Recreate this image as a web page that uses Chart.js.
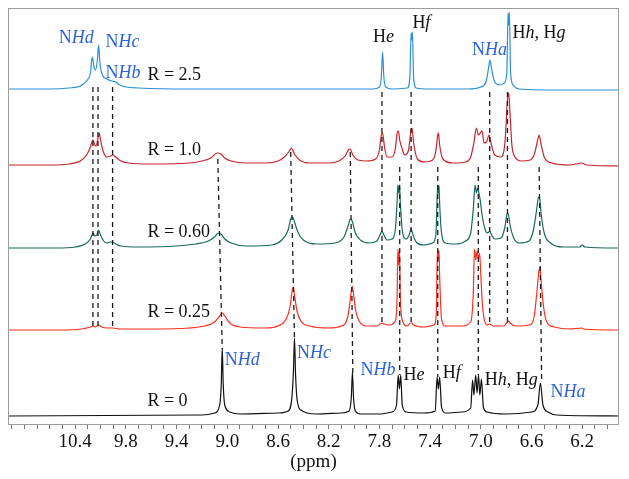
<!DOCTYPE html>
<html>
<head>
<meta charset="utf-8">
<script src="https://cdn.jsdelivr.net/npm/chart.js@4.4.1/dist/chart.umd.min.js"></script>
<style>
  html, body { margin: 0; padding: 0; background: #fff; }
</style>
</head>
<body>
<canvas id="nmr" width="629" height="479"></canvas>
<script>
// Spectra: [ppm, intensity] pairs (intensity includes the stack offset)
const specR25 = [[10.73,336],[10.40,336],[10.25,337],[10.16,339],[10.11,344],[10.08,352],[10.065,368],[10.05,357],[10.04,355],[10.025,365],[10.015,380],[10.005,362],[9.985,350],[9.95,346],[9.91,344],[9.88,343],[9.85,340],[9.80,338],[9.70,337],[9.30,336],[8.50,336],[8.00,336],[7.85,336],[7.80,338],[7.785,348],[7.775,373],[7.765,348],[7.75,338],[7.70,336],[7.58,337],[7.56,347],[7.55,392],[7.545,385],[7.54,393],[7.53,347],[7.51,337],[7.40,336],[7.10,336],[7.00,338],[6.96,343],[6.94,356],[6.928,365],[6.915,356],[6.89,343],[6.85,340],[6.815,342],[6.795,352],[6.785,412],[6.78,400],[6.775,413],[6.765,352],[6.745,340],[6.70,336],[6.40,335],[5.91,335]];

const specR10 = [[10.73,260],[10.40,260],[10.25,261],[10.16,264],[10.11,270],[10.08,278],[10.06,285],[10.045,280],[10.035,279],[10.02,287],[10.01,292],[10.0,285],[9.98,274],[9.95,268],[9.92,269],[9.905,270],[9.88,268],[9.84,264],[9.78,262],[9.60,261],[9.30,262],[9.20,264],[9.13,267],[9.08,272],[9.05,271],[9.02,267],[8.97,264],[8.85,262],[8.70,262],[8.60,264],[8.55,268],[8.51,274],[8.495,277],[8.47,271],[8.43,265],[8.35,262],[8.20,262],[8.12,264],[8.07,269],[8.045,275],[8.03,276],[8.01,270],[7.97,265],[7.90,264],[7.83,266],[7.80,275],[7.785,290],[7.775,292],[7.76,278],[7.74,268],[7.70,268],[7.675,276],[7.66,292],[7.65,294],[7.64,285],[7.62,276],[7.60,270],[7.57,275],[7.55,295],[7.543,297],[7.53,282],[7.50,266],[7.44,263],[7.38,265],[7.355,274],[7.34,290],[7.335,292],[7.325,280],[7.30,266],[7.22,262],[7.12,263],[7.08,268],[7.055,282],[7.035,297],[7.02,290],[7.005,292],[6.99,294],[6.975,282],[6.955,283],[6.935,290],[6.92,282],[6.89,270],[6.84,268],[6.81,282],[6.79,325],[6.78,332],[6.77,312],[6.755,280],[6.73,268],[6.68,264],[6.61,265],[6.575,272],[6.555,283],[6.54,290],[6.525,281],[6.50,268],[6.44,262],[6.30,260],[6.20,262],[6.17,260],[5.91,259]];

const specR060 = [[10.73,177],[10.35,177],[10.20,178],[10.12,181],[10.08,186],[10.06,192],[10.045,189],[10.03,190],[10.015,195],[10.0,190],[9.975,184],[9.95,182],[9.92,183],[9.905,183],[9.88,181],[9.84,179],[9.70,178],[9.40,179],[9.25,181],[9.15,184],[9.10,188],[9.07,192],[9.05,191],[9.02,186],[8.97,182],[8.85,179],[8.65,180],[8.57,185],[8.52,195],[8.50,206],[8.485,208],[8.47,203],[8.44,192],[8.40,185],[8.30,181],[8.15,182],[8.08,188],[8.045,200],[8.03,206],[8.015,204],[7.99,192],[7.95,185],[7.88,182],[7.82,184],[7.795,190],[7.78,194],[7.765,190],[7.74,185],[7.70,186],[7.675,195],[7.66,225],[7.655,240],[7.648,232],[7.642,240],[7.635,222],[7.62,195],[7.59,186],[7.565,190],[7.55,196],[7.535,190],[7.51,183],[7.45,180],[7.38,182],[7.355,190],[7.345,225],[7.34,240],[7.335,232],[7.33,240],[7.325,222],[7.31,192],[7.28,182],[7.20,181],[7.12,184],[7.08,192],[7.06,215],[7.045,240],[7.035,232],[7.025,237],[7.015,232],[7.005,225],[6.99,210],[6.965,195],[6.945,192],[6.93,194],[6.915,190],[6.89,186],[6.84,187],[6.81,198],[6.795,210],[6.785,212],[6.77,200],[6.74,187],[6.70,182],[6.62,184],[6.585,195],[6.56,215],[6.545,228],[6.535,226],[6.525,212],[6.50,192],[6.45,182],[6.35,178],[6.22,178],[6.20,180],[6.18,178],[5.91,177]];

const specR025 = [[10.73,95],[10.30,95],[10.15,96],[10.08,98],[10.06,99],[10.04,98],[10.015,100],[9.99,98],[9.95,97],[9.905,97],[9.85,96],[9.60,96],[9.30,97],[9.18,99],[9.10,103],[9.06,109],[9.04,112],[9.02,109],[8.98,102],[8.90,98],[8.70,97],[8.60,99],[8.54,105],[8.505,118],[8.49,133],[8.48,138],[8.47,130],[8.45,114],[8.42,104],[8.35,99],[8.20,97],[8.10,99],[8.05,108],[8.03,125],[8.015,139],[8.005,132],[7.99,116],[7.96,104],[7.90,99],[7.82,99],[7.795,101],[7.78,102],[7.765,101],[7.72,100],[7.675,104],[7.66,130],[7.655,176],[7.648,160],[7.642,176],[7.635,128],[7.62,105],[7.58,99],[7.555,102],[7.545,102],[7.53,100],[7.45,98],[7.37,100],[7.352,110],[7.345,160],[7.34,175],[7.335,165],[7.33,175],[7.325,150],[7.31,106],[7.28,99],[7.15,99],[7.08,103],[7.06,130],[7.05,176],[7.04,165],[7.03,174],[7.02,166],[7.01,172],[7.00,150],[6.99,125],[6.975,107],[6.95,100],[6.935,101],[6.90,99],[6.82,99],[6.79,103],[6.78,104],[6.77,102],[6.72,99],[6.62,100],[6.58,108],[6.56,130],[6.545,150],[6.535,158],[6.525,145],[6.505,118],[6.48,103],[6.42,98],[6.30,96],[6.20,97],[6.19,96],[5.91,95]];

const specR0 = [[10.73,9],[9.20,10],[9.10,12],[9.06,20],[9.048,40],[9.04,77],[9.032,40],[9.02,20],[8.98,13],[8.90,11],[8.60,12],[8.52,14],[8.49,28],[8.478,55],[8.47,87],[8.462,52],[8.45,26],[8.42,15],[8.30,11],[8.10,12],[8.04,14],[8.022,27],[8.013,53],[8.004,27],[7.99,14],[7.95,11],[7.80,11],[7.70,13],[7.665,20],[7.652,50],[7.642,36],[7.632,50],[7.62,20],[7.59,13],[7.45,12],[7.36,14],[7.345,48],[7.335,36],[7.325,48],[7.31,18],[7.28,12],[7.15,13],[7.08,17],[7.065,45],[7.055,30],[7.04,50],[7.03,32],[7.018,50],[7.008,30],[6.995,46],[6.98,18],[6.95,13],[6.80,11],[6.60,13],[6.55,20],[6.53,42],[6.51,20],[6.47,13],[6.40,10],[5.91,9]];

// Dashed guide lines: [ppm top, intensity top, ppm bottom, intensity bottom]
const guideLines = [
  [10.06, 338, 10.06, 97], [10.02, 338, 10.02, 97], [9.905, 338, 9.905, 97],
  [9.075, 266, 9.04, 76], [8.50, 273, 8.47, 86], [8.03, 273, 8.01, 52],
  [7.78, 333, 7.78, 99], [7.55, 333, 7.55, 99], [7.64, 258, 7.64, 50],
  [7.34, 258, 7.34, 48], [7.02, 258, 7.02, 50], [6.93, 333, 6.93, 99],
  [6.79, 333, 6.79, 101], [6.54, 258, 6.52, 42]
];

// Text labels: text (*...* = italic), ppm of left edge, intensity of baseline, blue or not
const labelText = ['N*Hd*', 'N*Hc*', 'N*Hb*', 'R = 2.5', 'H*e*', 'H*f*', 'N*Ha*', 'H*h*, H*g*',
  'R = 1.0', 'R = 0.60', 'R = 0.25', 'R = 0',
  'N*Hd*', 'N*Hc*', 'N*Hb*', 'H*e*', 'H*f*', 'H*h*, H*g*', 'N*Ha*'];
const labelPpm = [10.33, 9.96, 9.96, 9.63, 7.85, 7.54, 7.07, 6.75,
  9.63, 9.63, 9.63, 9.63,
  9.02, 8.45, 7.95, 7.61, 7.30, 6.97, 6.45];
const labelInt = [382, 378, 347, 345, 383, 397, 370, 387,
  270, 188, 108, 19,
  60, 67, 50, 45, 47, 40, 28];
const labelBlue = [1, 1, 1, 0, 0, 0, 1, 0, 0, 0, 0, 0, 1, 1, 1, 0, 0, 0, 1];

// Axis ticks
const tickValues = [10.2, 9.8, 9.4, 9.0, 8.6, 8.2, 7.8, 7.4, 7.0, 6.6, 6.2];
const tickLabels = ['10.4', '9.8', '9.4', '9.0', '8.6', '8.2', '7.8', '7.4', '7.0', '6.6', '6.2'];

const SERIF = '"Liberation Serif", "DejaVu Serif", serif';

function toXY(pairs) {
  return pairs.map(p => ({ x: p[0], y: p[1] }));
}

function spectrum(pairs, color) {
  return {
    data: toXY(pairs),
    borderColor: color,
    borderWidth: 1.2,
    pointRadius: 0,
    cubicInterpolationMode: 'monotone',
    order: 2
  };
}

const datasets = [
  spectrum(specR25, '#2b90d3'),
  spectrum(specR10, '#c9222c'),
  spectrum(specR060, '#17695a'),
  spectrum(specR025, '#ff2d1c'),
  spectrum(specR0, '#111111')
];

guideLines.forEach(g => {
  datasets.push({
    data: [{ x: g[0], y: g[1] }, { x: g[2], y: g[3] }],
    borderColor: '#1a1a1a',
    borderWidth: 1.3,
    borderDash: [5, 4],
    pointRadius: 0,
    order: 1
  });
});

// Draws the frame and the peak labels
const annotations = {
  id: 'annotations',
  afterDatasetsDraw(chart) {
    const ctx = chart.ctx;
    const area = chart.chartArea;
    const xs = chart.scales.x;
    const ys = chart.scales.y;

    ctx.save();
    ctx.strokeStyle = '#9c9c9c';
    ctx.lineWidth = 1;
    ctx.strokeRect(area.left + 0.5, area.top + 0.5, area.right - area.left - 1, area.bottom - area.top - 1);

    ctx.textBaseline = 'alphabetic';
    ctx.textAlign = 'left';
    labelText.forEach((text, i) => {
      let x = xs.getPixelForValue(labelPpm[i]);
      const y = ys.getPixelForValue(labelInt[i]);
      ctx.fillStyle = labelBlue[i] ? '#2f62d8' : '#111111';
      text.split('*').forEach((part, k) => {
        if (!part) return;
        ctx.font = (k % 2 ? 'italic ' : '') + '18px ' + SERIF;
        ctx.fillText(part, x, y);
        x += ctx.measureText(part).width;
      });
    });
    ctx.restore();
  }
};

new Chart(document.getElementById('nmr'), {
  type: 'line',
  data: { datasets: datasets },
  options: {
    responsive: false,
    animation: false,
    layout: { padding: { left: 8, right: 10, top: 8, bottom: 0 } },
    plugins: {
      legend: { display: false },
      tooltip: { enabled: false }
    },
    scales: {
      x: {
        type: 'linear',
        reverse: true,
        min: 5.91,
        max: 10.73,
        afterFit: scale => { scale.height = 54; },
        afterBuildTicks: scale => {
          const ticks = [];
          for (let k = 60; k <= 107; k++) ticks.push({ value: k / 10 });
          scale.ticks = ticks;
        },
        grid: { drawOnChartArea: false, tickLength: 4, color: '#777' },
        border: { display: false },
        ticks: {
          autoSkip: false,
          maxRotation: 0,
          padding: 2,
          color: '#111',
          font: { family: SERIF, size: 19 },
          callback: value => {
            const i = tickValues.findIndex(v => Math.abs(v - value) < 1e-6);
            return i >= 0 ? tickLabels[i] : '';
          }
        },
        title: {
          display: true,
          text: '(ppm)',
          color: '#111',
          font: { family: SERIF, size: 19 },
          padding: { top: 0, bottom: 6 }
        }
      },
      y: { display: false, min: 0, max: 417 }
    }
  },
  plugins: [annotations]
});
</script>
</body>
</html>
